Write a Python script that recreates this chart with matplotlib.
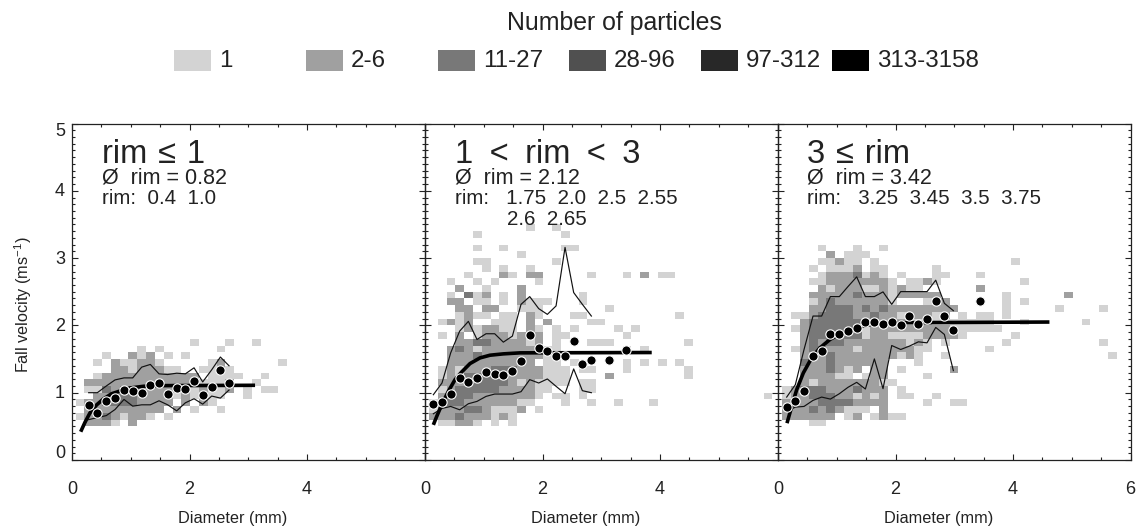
import numpy as np
import matplotlib
matplotlib.use("Agg")
import matplotlib.pyplot as plt
from matplotlib.colors import ListedColormap
from matplotlib.patches import Rectangle

plt.rcParams['font.family'] = ['Liberation Sans', 'DejaVu Sans']
plt.rcParams['mathtext.default'] = 'regular'
W, H = 1140, 529
TXT = '#222222'

LEVELS = ['1', '2-6', '11-27', '28-96', '97-312', '313-3158']
COLORS = ['#d3d3d3', '#a0a0a0', '#787878', '#505050', '#282828', '#000000']

# Each row: "column:level" or "first-last:level"; key is the velocity row (0.1 m/s per row).
CELLS_1 = {
    17: "13:1 17:1 20:1",
    16: "7:1 9:1 16:1",
    15: "3:1 6:2 7:1 8:2 10:1 12:1",
    14: "2:1 4:2 5-6:1 7-8:2 9:1 15:1 16:2 23:1",
    13: "4-5:2 6:1 7-9:2 10-11:1 14-15:1 16:2 17:1",
    12: "2:1 3-13:2 15-18:1 21:1",
    11: "1-13:2 14-16:1 17:2 20:1",
    10: "1-2:1 3:3 4:2 5-6:3 7-12:2 13:1 14:2 15-16:1 17:2 19:1 21-22:1",
    9: "2-3:2 4-6:3 7-10:2 11:1 12:2 13:1 14:2 15-16:1 19:1",
    8: "0:1 1-2:2 3-6:3 7-10:2 12:2 14:2 15:1",
    7: "1-9:2 11:2 13:1 16:1",
    6: "0:1 1-2:2 3:3 4:2 5:1 6-7:2 8:1 10:1",
    5: "1-3:2 4:1 6:2",
}
CELLS_2 = {
    34: "11:1 14:1",
    33: "5:1 15:1",
    31: "5:1 8:1 15-16:1",
    30: "10:1",
    29: "5-6:1 14:1",
    28: "6:1 8:1 11:1",
    27: "4:1 8:2 9:1 11-12:2 18:1 22:1 24:2 26-27:1",
    26: "2:1 5:1 7:1 12:1",
    25: "3:2 6:1 10:2",
    24: "2:1 4:3 5:1 6:2 8:1 10:2 17:1",
    23: "2-3:2 5-6:1 8:1 10:2 11-13:1 17:1",
    22: "3-4:2 6-7:2 10-12:1 20:1",
    21: "3:1 4:2 5-6:1 8-9:1 11:2 12:1 16-17:1 28:1",
    20: "1:1 2:2 3:1 4:2 7-9:1 11:2 13:2 18-19:1",
    19: "3:1 4:2 5:1 6-7:2 8-9:1 11:2 12:1 14:1 16:1 21:1 23:1",
    18: "1:1 3:2 5:1 6-8:2 9:1 10:2 11:1 12:2 14-15:1 22:1",
    17: "3-4:2 5-6:3 7-10:2 11:1 12:2 14:1 18-20:1 29:1",
    16: "2:2 3:3 4:2 5:1 6-12:2 13-14:1 22:1 24:1",
    15: "2-4:2 5:3 6-12:2 13-14:1",
    14: "2-11:2 13-14:1 16:1 22:1 24:1 26:1 28:1",
    13: "1:1 2:2 3:1 4-6:2 7-9:3 10-12:2 13-15:1 17-18:1 22:1 29:1",
    12: "1:1 2:2 3:1 4-8:3 9-12:2 13-15:1 20:2 29:1",
    11: "1-3:2 4-8:3 9:2 10:1 11:2 12-15:1 17-18:1",
    10: "1:1 2:2 3-7:3 8-11:2 12-13:1 17-18:1",
    9: "1:2 2-4:3 5-11:2 12:1 14-15:1 17:1 38:1",
    8: "0:1 1:2 2-3:3 4-9:2 10-11:1 15:1 18:1 21:1 25:1",
    7: "0:1 1-3:2 4-5:3 6:2 7-9:1 10:2 12:1",
    6: "0-2:2 3:3 4-6:2 7:1 8:2 9:1",
    5: "1-2:1 3-4:2 5:1 7:1 9:1",
}
CELLS_3 = {
    31: "4:1 8:1 11:1",
    30: "5:2 7-9:1",
    29: "4-5:1 6:2 7-8:1 10:1 26:1",
    28: "3:1 5-7:1 8:2 10-11:1 17:1",
    27: "4:1 5-7:2 8:3 9:1 10:2 11:1 13:1 17-18:1 22:1",
    26: "3-4:1 5-11:2 12:1 14-15:1 16:2 17:1 27:1",
    25: "4:2 5:1 6-8:2 9-10:1 11:2 12:1 13:2 14-15:1 22:2",
    24: "3-7:2 8:3 9-11:2 12:1 13-17:2 25:1 32:2",
    23: "3:1 4:2 5:3 6-11:2 12:1 16:1 18:2 25:1 27:1",
    22: "3-4:2 5-7:3 8:2 9:3 10:2 11:3 12-19:2 25:1 31:1 36:1",
    21: "1-2:1 3:2 4-7:3 8-9:2 10:3 11-12:2 13:1 14-16:2 17:1 18:2 20:1 22-23:1 25:1",
    20: "2:2 3-8:3 9-13:2 14-15:1 16:2 17-23:1 27:1 34:1",
    19: "1:1 2:2 3-7:3 8:2 9:1 10-18:2 19-24:1",
    18: "2:2 3-8:3 9:1 10-11:2 12-15:1 16-19:2 20:1 26:1",
    17: "2:2 3:3 4:2 5-6:3 7-13:2 14:1 15:2 16:1 18:1 25:1 36:1",
    16: "1:1 2:2 3-4:3 5-7:2 8:1 9-14:2 15-16:1 23:1",
    15: "2-4:2 5:3 6-12:2 13:1 14:2 15:1 18:1 37:1",
    14: "2:3 3-4:2 5:3 6-11:2 15:1",
    13: "2-4:2 5:3 6:2 7:1 8:2 10-11:2 13:1 19:2",
    12: "2-5:2 6-7:1 9:1 10-11:2 16:1",
    11: "2:2 3:1 4-10:2 11-12:1",
    10: "0:1 1:2 2-4:3 5-7:2 8:3 9-11:2 13:1",
    9: "0:1 1-2:2 3-5:3 6-7:2 8:1 9:2 10:1 11:2 13-14:1 17:1",
    8: "0-3:2 4-7:3 8-11:2 16:1 19-20:1",
    7: "0-2:2 3:3 4:2 5:3 6:2 7-9:1 11:2",
    6: "0-5:2 7:1 8:2 10:1 11:2 12-13:1",
    5: "3-4:1",
}

X_1 = [0.284, 0.431, 0.584, 0.732, 0.885, 1.033, 1.186, 1.333, 1.481, 1.628, 1.782, 1.929, 2.077, 2.224, 2.377, 2.525, 2.672]
DOT_1 = [.81, .70, .88, .92, 1.04, 1.02, 1.00, 1.11, 1.15, .98, 1.07, 1.06, 1.18, .97, 1.09, 1.34, 1.15]
UP_1 = [1.00, 1.00, 1.10, 1.19, 1.22, 1.22, 1.38, 1.42, 1.28, 1.27, 1.29, 1.28, 1.37, 1.16, 1.34, 1.53, 1.40]
LO_1 = [.60, .63, .66, .75, .90, .80, .82, .82, .88, .82, .73, .85, .91, .83, .95, .92, 1.04]
FIT_X_1 = [.148, .221, .306, .42, .533, .675, .817, .987, 1.214, 1.498, 3.115]
FIT_Y_1 = [.42, .56, .70, .82, .905, .985, 1.025, 1.07, 1.095, 1.105, 1.11]

X_2 = [.142, .289, .437, .59, .738, .885, 1.038, 1.186, 1.333, 1.487, 1.634, 1.782, 1.935, 2.082, 2.23, 2.383, 2.53, 2.678, 2.831]
X_2_DOT = X_2 + [3.126, 3.427]
DOT_2 = [.826, .856, .98, 1.214, 1.159, 1.214, 1.308, 1.284, 1.264, 1.318, 1.473, 1.856, 1.667, 1.622, 1.552, 1.552, 1.761, 1.428, 1.483, 1.493, 1.637]
UP_2 = [.97, 1.144, 1.592, 1.915, 2.06, 1.791, 1.876, 1.876, 1.751, 1.841, 2.313, 2.428, 2.249, 2.164, 2.289, 3.159, 2.488, 2.313, 2.139]
LO_2 = [.687, .766, .796, .746, .836, .871, .945, .98, .98, .98, 1.015, 1.194, 1.144, 1.204, 1.095, .985, 1.353, 1.03, 1.0]
FIT_X_2 = [.142, .199, .284, .397, .511, .624, .766, .936, 1.106, 1.333, 1.617, 3.858]
FIT_Y_2 = [.522, .647, .821, 1.02, 1.194, 1.308, 1.433, 1.517, 1.557, 1.577, 1.592, 1.597]

X_3 = [.148, .295, .443, .596, .743, .891, 1.044, 1.191, 1.339, 1.487, 1.64, 1.787, 1.935, 2.088, 2.235, 2.389, 2.536, 2.684, 2.831, 2.984]
X_3_DOT = X_3 + [3.433]
DOT_3 = [.791, .871, 1.02, 1.552, 1.622, 1.871, 1.871, 1.915, 1.96, 2.045, 2.045, 2.025, 2.045, 2.0, 2.139, 2.02, 2.095, 2.368, 2.139, 1.935, 2.368]
UP_3 = [.935, 1.119, 1.642, 2.139, 2.139, 2.428, 2.428, 2.577, 2.721, 2.428, 2.428, 2.498, 2.313, 2.502, 2.502, 2.502, 2.502, 2.672, 2.328, 2.219]
LO_3 = [.721, .786, .796, .886, .935, .905, .985, 1.08, 1.154, 1.055, 1.502, 1.06, 1.701, 1.642, 1.692, 1.756, 1.741, 1.97, 1.866, 1.328]
FIT_X_3 = [.153, .233, .318, .431, .573, .715, .885, 1.084, 1.311, 1.594, 1.935, 4.619]
FIT_Y_3 = [.547, .796, 1.045, 1.294, 1.517, 1.667, 1.791, 1.891, 1.965, 2.015, 2.04, 2.05]

TITLES = ['rim\u2004\u2264\u20041', '1\u2002<\u2002rim\u2002<\u20023', '3\u2004\u2264\u2004rim']
MEANS = ['\u00d8  rim = 0.82', '\u00d8  rim = 2.12', '\u00d8  rim = 3.42']
RIMS = ['rim:  0.4  1.0', 'rim:   1.75  2.0  2.5  2.55', 'rim:   3.25  3.45  3.5  3.75']
RIM2 = [None, '2.6  2.65', None]
XTICKS = [[0, 2, 4], [0, 2, 4], [0, 2, 4, 6]]
YTICKS = [0, 1, 2, 3, 4, 5]

PANELS = [
    (CELLS_1, 0.0624, X_1, DOT_1, X_1, UP_1, LO_1, FIT_X_1, FIT_Y_1),
    (CELLS_2, 0.0680, X_2_DOT, DOT_2, X_2, UP_2, LO_2, FIT_X_2, FIT_Y_2),
    (CELLS_3, 0.0740, X_3_DOT, DOT_3, X_3, UP_3, LO_3, FIT_X_3, FIT_Y_3),
]
LEFTS = [72, 425, 778]
AX_W, AX_TOP, AX_BOT = 352.6, 123.5, 460.0
CELL_W, CELL_H = 0.1498, 0.1
N_COL, N_ROW = 40, 40


def to_grid(cells):
    grid = np.full((N_ROW, N_COL), np.nan)
    for row, spec in cells.items():
        for tok in spec.split():
            span, lev = tok.split(':')
            a, _, b = span.partition('-')
            grid[row, int(a):int(b or a) + 1] = int(lev) - 1
    return np.ma.masked_invalid(grid)


fig = plt.figure(figsize=(W / 100, H / 100), dpi=100, facecolor='white')
cmap = ListedColormap(COLORS)


def ftext(x, y, s, **kw):
    kw.setdefault('color', TXT)
    fig.text(x / W, 1 - y / H, s, **kw)


for k, (cells, x0, xd, yd, xl, up, lo, fx, fy) in enumerate(PANELS):
    ax = fig.add_axes([LEFTS[k] / W, 1 - AX_BOT / H, AX_W / W, (AX_BOT - AX_TOP) / H])
    xe = x0 + CELL_W * np.arange(N_COL + 1)
    ye = CELL_H * np.arange(N_ROW + 1)
    ax.pcolormesh(xe, ye, to_grid(cells), cmap=cmap, vmin=-0.5, vmax=5.5, antialiased=False, zorder=1)
    ax.plot(xl, up, color='#111111', lw=0.85, zorder=2)
    ax.plot(xl, lo, color='#111111', lw=0.85, zorder=2)
    ax.plot(fx, fy, color='black', lw=2.6, zorder=3, solid_capstyle='butt')
    ax.plot(xd, yd, ls='none', marker='o', ms=6.7, mfc='black', mec='white', mew=0.8, zorder=4)
    ax.set_xlim(0, 6)
    ax.set_ylim(0, 5)
    ax.set_xticks([0, 2, 4, 6])
    ax.set_xticks(np.arange(0, 6.01, 0.5), minor=True)
    ax.set_yticks(YTICKS)
    ax.set_yticks(np.arange(0, 5.01, 0.1), minor=True)
    ax.tick_params(which='major', direction='in', top=True, right=True, length=4.5, width=0.8, color='#222222')
    ax.tick_params(which='minor', direction='in', top=True, right=True, length=2.2, width=0.8, color='#222222')
    ax.set_xticklabels([])
    ax.set_yticklabels([])
    for s in ax.spines.values():
        s.set_linewidth(0.9)
        s.set_color('#222222')
    ax.patch.set_alpha(0)
    for t in XTICKS[k]:
        ftext(LEFTS[k] + AX_W * t / 6, 490, str(t), ha='center', va='center', fontsize=13)
    ftext(LEFTS[k] + 161, 518, 'Diameter (mm)', ha='center', va='center', fontsize=11.7)
    tx = LEFTS[k] + [30, 30, 29][k]
    ftext(tx, 163, TITLES[k], ha='left', va='baseline', fontsize=23.5)
    ftext(tx, 183, MEANS[k], ha='left', va='baseline', fontsize=15.5)
    ftext(tx, 204, RIMS[k], ha='left', va='baseline', fontsize=14.8)
    if RIM2[k]:
        ftext(tx + 52, 225, RIM2[k], ha='left', va='baseline', fontsize=14.8)

for v in YTICKS:
    yy = AX_BOT - (AX_BOT - AX_TOP) * v / 5
    yy += {0: -7, 5: 7.5}.get(v, 1)
    ftext(65, yy, str(v), ha='right', va='center', fontsize=13)

ftext(23, 305, 'Fall velocity (ms$^{-1}$)', rotation=90, ha='center', va='center', fontsize=11.7)

ftext(614, 23, 'Number of particles', ha='center', va='center', fontsize=17.9)
SW_X = [174, 306, 438, 569, 701, 832]
for sx, lab, col in zip(SW_X, LEVELS, COLORS):
    fig.add_artist(Rectangle((sx / W, 1 - 70.5 / H), 37 / W, 20 / H, transform=fig.transFigure, facecolor=col, edgecolor='none'))
    ftext(sx + 45, 61, lab, ha='left', va='center', fontsize=17.4)

fig.savefig('out.png', dpi=100, facecolor='white')
